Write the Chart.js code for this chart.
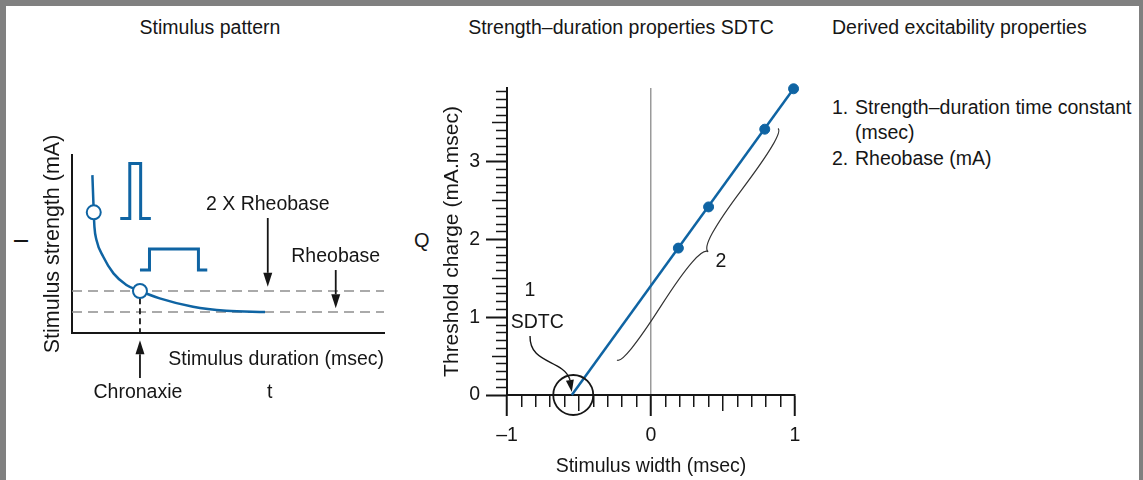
<!DOCTYPE html>
<html>
<head>
<meta charset="utf-8">
<script src="https://cdn.jsdelivr.net/npm/chart.js@4.4.1/dist/chart.umd.min.js"></script>
<style>
  html, body { margin: 0; padding: 0; }
  body { width: 1143px; height: 480px; background: #808080; position: relative; overflow: hidden;
         font-family: 'Liberation Sans', Arial, sans-serif; color: #161616; }
  .sheet { position: absolute; left: 6px; top: 6px; width: 1133px; height: 474px; background: #fff; }
  .lbl { position: absolute; font-size: 19.5px; line-height: 24px; white-space: nowrap; }
  canvas { position: absolute; }
</style>
</head>
<body>
<div class="sheet"></div>
<div class="lbl" style="left:110px;top:15px;width:200px;text-align:center">Stimulus pattern</div>
<div class="lbl" style="left:421px;top:15px;width:400px;text-align:center">Strength–duration properties SDTC</div>
<div class="lbl" style="left:832px;top:15px">Derived excitability properties</div>
<div class="lbl" style="left:832px;top:95px">1.</div>
<div class="lbl" style="left:855px;top:95px">Strength–duration time constant</div>
<div class="lbl" style="left:855px;top:120px">(msec)</div>
<div class="lbl" style="left:832px;top:146px">2.</div>
<div class="lbl" style="left:855px;top:146px">Rheobase (mA)</div>
<div class="lbl" style="left:414px;top:228px;font-size:20px">Q</div>
<div class="lbl" style="left:18px;top:229px;font-size:20px;transform:rotate(-90deg)">I</div>
<canvas id="pattern" width="400" height="420" style="left:0;top:60px"></canvas>
<canvas id="sdtc" width="430" height="420" style="left:400px;top:60px"></canvas>
<script>
// --- stimulus pattern (left): strength-duration curve, arbitrary units
// x: duration in chronaxie units, y: strength in rheobase units
const durationValues = [0.30, 0.32, 0.33, 0.36, 0.46, 0.61, 0.80, 1.00, 1.29, 1.78, 2.27, 2.84];
const strengthValues = [7.52, 5.75, 5.06, 4.43, 3.63, 2.84, 2.29, 2.00, 1.65, 1.25, 1.06, 1.00];
const markedDurations = [0.32, 1.00];
const markedStrengths = [5.75, 2.00];
const rheobaseLevels = [1, 2];           // rheobase and 2 x rheobase
const shortPulseX = [0.71, 0.85, 0.85, 1.01, 1.01, 1.16];
const shortPulseY = [5.46, 5.46, 8.08, 8.08, 5.46, 5.46];
const longPulseX = [1.00, 1.14, 1.14, 1.86, 1.86, 1.99];
const longPulseY = [3.00, 3.00, 4.00, 4.00, 3.00, 3.00];
const chronaxieX = [1.00, 1.00];
const chronaxieY = [1.66, 0];

// --- strength-duration properties (middle): charge vs stimulus width
const stimulusWidths = [0.19, 0.40, 0.79, 0.99];
const thresholdCharges = [1.89, 2.42, 3.42, 3.94];
const fitWidths = [-0.55, 0.99];
const fitCharges = [0, 3.94];

const BLUE = '#0f64a3';
const INK = '#161616';
const FONT = "'Liberation Sans', Arial, sans-serif";

Chart.defaults.font.family = FONT;
Chart.defaults.color = INK;

const toPoints = (xs, ys) => xs.map((v, i) => ({ x: v, y: ys[i] }));
const isWhole = v => Math.abs(v - Math.round(v)) < 1e-6;
const isHalf = v => Math.abs(v * 2 - Math.round(v * 2)) < 1e-6;

function drawArrow(ctx, x1, y1, x2, y2, head, half) {
    const ang = Math.atan2(y2 - y1, x2 - x1);
    const bx = x2 - head * Math.cos(ang), by = y2 - head * Math.sin(ang);
    ctx.beginPath();
    ctx.moveTo(x1, y1);
    ctx.lineTo(bx, by);
    ctx.stroke();
    ctx.beginPath();
    ctx.moveTo(x2, y2);
    ctx.lineTo(bx + half * Math.sin(ang), by - half * Math.cos(ang));
    ctx.lineTo(bx - half * Math.sin(ang), by + half * Math.cos(ang));
    ctx.closePath();
    ctx.fill();
}

// curly brace between two points, bulging to the right of p1->p2
function drawBrace(ctx, x1, y1, x2, y2, w, q) {
    let dx = x1 - x2, dy = y1 - y2;
    const len = Math.hypot(dx, dy);
    dx /= len; dy /= len;
    const qx1 = x1 + q * w * dy, qy1 = y1 - q * w * dx;
    const qx2 = x1 - 0.25 * len * dx + (1 - q) * w * dy, qy2 = y1 - 0.25 * len * dy - (1 - q) * w * dx;
    const tx = x1 - 0.5 * len * dx + w * dy, ty = y1 - 0.5 * len * dy - w * dx;
    const qx3 = x2 + q * w * dy, qy3 = y2 - q * w * dx;
    const qx4 = x1 - 0.75 * len * dx + (1 - q) * w * dy, qy4 = y1 - 0.75 * len * dy - (1 - q) * w * dx;
    ctx.beginPath();
    ctx.moveTo(x1, y1);
    ctx.quadraticCurveTo(qx1, qy1, qx2, qy2);
    ctx.quadraticCurveTo(2 * qx2 - qx1, 2 * qy2 - qy1, tx, ty);
    ctx.moveTo(x2, y2);
    ctx.quadraticCurveTo(qx3, qy3, qx4, qy4);
    ctx.quadraticCurveTo(2 * qx4 - qx3, 2 * qy4 - qy3, tx, ty);
    ctx.stroke();
}

const patternNotes = {
    id: 'patternNotes',
    afterDatasetsDraw(chart) {
        const { ctx, scales: { x, y } } = chart;
        const px = v => x.getPixelForValue(v);
        const py = v => y.getPixelForValue(v);
        ctx.save();
        ctx.strokeStyle = INK;
        ctx.fillStyle = INK;
        ctx.lineWidth = 1.8;
        drawArrow(ctx, px(2.88), py(5.48), px(2.88), py(2.2), 14, 4.5);
        drawArrow(ctx, px(3.88), py(3.0), px(3.88), py(1.18), 14, 4.5);
        drawArrow(ctx, px(1.0), py(-2.14), px(1.0), py(-0.35), 14, 4.5);

        ctx.font = '19.5px ' + FONT;
        ctx.textAlign = 'center';
        ctx.textBaseline = 'middle';
        ctx.fillText('2 X Rheobase', px(2.88), py(6.1));
        ctx.fillText('Rheobase', px(3.88), py(3.62));
        ctx.fillText('Chronaxie', px(0.97), py(-2.86));
        ctx.fillText('t', px(2.91), py(-2.86));
        ctx.restore();
    }
};

const sdtcNotes = {
    id: 'sdtcNotes',
    afterDatasetsDraw(chart) {
        const { ctx, scales: { x, y } } = chart;
        const px = v => x.getPixelForValue(v);
        const py = v => y.getPixelForValue(v);
        ctx.save();
        ctx.strokeStyle = INK;
        ctx.fillStyle = INK;

        // circle round the x-intercept
        ctx.lineWidth = 1.8;
        ctx.beginPath();
        ctx.arc(px(-0.54), py(0), 20, 0, Math.PI * 2);
        ctx.stroke();

        // pointer from the SDTC label
        ctx.lineWidth = 1.4;
        ctx.beginPath();
        ctx.moveTo(px(-0.84), py(0.76));
        ctx.bezierCurveTo(px(-0.845), py(0.40), px(-0.62), py(0.46), px(-0.565), py(0.21));
        ctx.stroke();
        drawArrow(ctx, px(-0.565), py(0.21), px(-0.55), py(0.04), 12, 4);

        // brace along the fitted line
        ctx.lineWidth = 1.2;
        ctx.strokeStyle = '#333';
        drawBrace(ctx, px(-0.236), py(0.45), px(0.882), py(3.43), 13, 0.6);

        ctx.font = '19.5px ' + FONT;
        ctx.textAlign = 'center';
        ctx.textBaseline = 'middle';
        ctx.fillText('1', px(-0.84), py(1.34));
        ctx.fillText('SDTC', px(-0.79), py(0.93));
        ctx.fillText('2', px(0.486), py(1.72));
        ctx.restore();
    }
};

new Chart(document.getElementById('pattern'), {
    type: 'line',
    data: {
        datasets: [
            {
                type: 'scatter',
                data: toPoints(markedDurations, markedStrengths),
                pointRadius: 7,
                pointBackgroundColor: '#fff',
                pointBorderColor: BLUE,
                pointBorderWidth: 2
            },
            {
                data: toPoints(durationValues, strengthValues),
                borderColor: BLUE,
                borderWidth: 2.5,
                pointRadius: 0,
                cubicInterpolationMode: 'monotone'
            },
            {
                data: toPoints(chronaxieX, chronaxieY),
                borderColor: INK,
                borderWidth: 1.8,
                borderDash: [6, 4],
                pointRadius: 0
            },
            ...rheobaseLevels.map(level => ({
                data: [{ x: 0, y: level }, { x: 4.59, y: level }],
                borderColor: '#8f8f8f',
                borderWidth: 1.6,
                borderDash: [10, 6],
                pointRadius: 0
            })),
            {
                data: toPoints(shortPulseX, shortPulseY),
                borderColor: BLUE,
                borderWidth: 3,
                borderJoinStyle: 'miter',
                pointRadius: 0
            },
            {
                data: toPoints(longPulseX, longPulseY),
                borderColor: BLUE,
                borderWidth: 3,
                borderJoinStyle: 'miter',
                pointRadius: 0
            }
        ]
    },
    options: {
        responsive: false,
        animation: false,
        layout: { padding: { left: 40, right: 16, top: 95, bottom: 109 } },
        plugins: { legend: { display: false }, tooltip: { enabled: false } },
        scales: {
            x: {
                type: 'linear', min: 0, max: 4.59,
                ticks: { display: false },
                grid: { display: false },
                border: { color: INK, width: 2 },
                title: { display: true, text: 'Stimulus duration (msec)', align: 'end', color: INK, font: { size: 19.5 }, padding: 0 },
                afterFit(s) { s.height = 38; }
            },
            y: {
                type: 'linear', min: 0, max: 8.48,
                ticks: { display: false },
                grid: { display: false },
                border: { color: INK, width: 2 },
                title: { display: true, text: 'Stimulus strength (mA)', color: INK, font: { size: 21.5 }, padding: 0 },
                afterFit(s) { s.width = 32; }
            }
        }
    },
    plugins: [patternNotes]
});

// tick length per value: whole units long, halves medium, tenths short
const tickSpan = v => isWhole(v) ? 21 : (isHalf(v) ? 15 : 11);

new Chart(document.getElementById('sdtc'), {
    type: 'line',
    data: {
        datasets: [
            {
                type: 'scatter',
                data: toPoints(stimulusWidths, thresholdCharges),
                pointRadius: 5,
                pointBackgroundColor: BLUE,
                pointBorderColor: BLUE,
                clip: false
            },
            {
                data: toPoints(fitWidths, fitCharges),
                borderColor: BLUE,
                borderWidth: 2.5,
                pointRadius: 0,
                clip: false
            }
        ]
    },
    options: {
        responsive: false,
        animation: false,
        layout: { padding: { left: 40, right: 35, top: 28, bottom: 2 } },
        plugins: { legend: { display: false }, tooltip: { enabled: false } },
        scales: {
            x: {
                type: 'linear', min: -1, max: 1,
                ticks: {
                    stepSize: 0.1, autoSkip: false, maxRotation: 0, includeBounds: false, maxTicksLimit: 100,
                    padding: 8, color: INK, font: { size: 19.5 },
                    callback: v => isWhole(v) ? (v < 0 ? '–' + Math.abs(Math.round(v)) : String(Math.round(v))) : ''
                },
                grid: {
                    drawOnChartArea: true,
                    tickLength: 21,
                    color: c => (c.tick && Math.abs(c.tick.value) < 1e-6) ? '#9a9a9a' : 'rgba(0,0,0,0)',
                    lineWidth: 1.5,
                    tickColor: INK,
                    tickWidth: c => isWhole(c.tick.value) ? 2 : 1.5,
                    tickBorderDash: c => [tickSpan(c.tick.value), 1000]
                },
                border: { color: INK, width: 2 },
                title: { display: true, text: 'Stimulus width (msec)', color: INK, font: { size: 19.5 }, padding: 0 },
                afterFit(s) { s.height = 83; }
            },
            y: {
                type: 'linear', min: 0, max: 3.95,
                ticks: {
                    stepSize: 0.1, autoSkip: false, includeBounds: false, maxTicksLimit: 100,
                    padding: 6, color: INK, font: { size: 19.5 },
                    callback: v => isWhole(v) ? String(Math.round(v)) : ''
                },
                grid: {
                    drawOnChartArea: false,
                    tickLength: 21,
                    tickColor: INK,
                    tickWidth: c => isWhole(c.tick.value) ? 2 : 1.5,
                    tickBorderDash: c => [0, 21 - tickSpan(c.tick.value), tickSpan(c.tick.value), 1000]
                },
                border: { color: INK, width: 2 },
                title: { display: true, text: 'Threshold charge (mA.msec)', color: INK, font: { size: 21 }, padding: 0 },
                afterFit(s) { s.width = 67; }
            }
        }
    },
    plugins: [sdtcNotes]
});
</script>
</body>
</html>
